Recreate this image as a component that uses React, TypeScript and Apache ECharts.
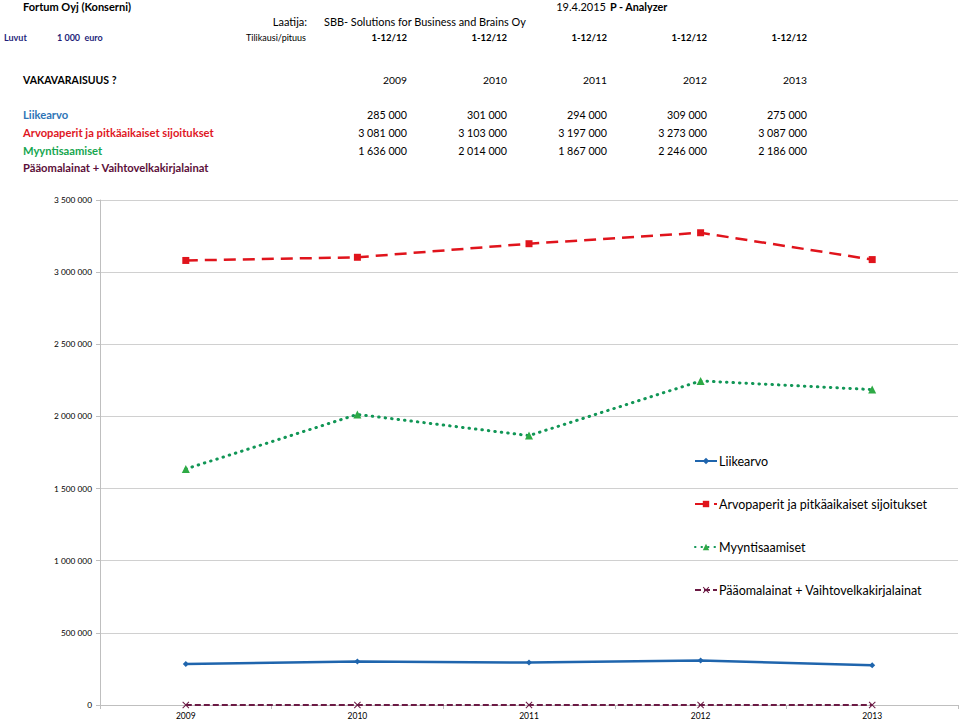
import React, { useEffect, useRef } from "react";
import * as echarts from "echarts";

const years = ["2009", "2010", "2011", "2012", "2013"];
const liikearvo = [285000, 301000, 294000, 309000, 275000];
const arvopaperit = [3081000, 3103000, 3197000, 3273000, 3087000];
const myyntisaamiset = [1636000, 2014000, 1867000, 2246000, 2186000];
const paaomalainat = [0, 0, 0, 0, 0];
const periods = ["1-12/12", "1-12/12", "1-12/12", "1-12/12", "1-12/12"];
const seriesNames = [
  "Liikearvo",
  "Arvopaperit ja pitkäaikaiset sijoitukset",
  "Myyntisaamiset",
  "Pääomalainat + Vaihtovelkakirjalainat",
];

const FONT = "Lato, 'Liberation Sans', sans-serif";
const fmt = (v: number) =>
  String(v).replace(/\B(?=(\d{3})+(?!\d))/g, " ");

export default function App() {
  const ref = useRef<HTMLDivElement>(null);
  useEffect(() => {
    if (!ref.current) return;
    const chart = echarts.init(ref.current, null, { renderer: "svg" });
    const colX = [407, 507, 607, 707, 807];
    const texts: any[] = [];
    const t = (x: number, y: number, text: string, opts: any = {}) =>
      texts.push({
        type: "text",
        x,
        y,
        style: {
          text,
          fontFamily: FONT,
          fontSize: 11,
          fill: "#000",
          textVerticalAlign: "middle",
          verticalAlign: "middle",
          ...opts,
        },
      });
    t(23, 6, "Fortum Oyj (Konserni)", { fontWeight: "bold", fontSize: 11 });
    t(606, 6, "19.4.2015", { align: "right", textAlign: "right" });
    t(610, 6, "P - Analyzer", { fontWeight: "bold", fontSize: 10.8 });
    t(307, 21, "Laatija:", { align: "right", textAlign: "right" });
    t(324, 21, "SBB- Solutions for Business and Brains Oy", { fontSize: 10.9 });
    t(4, 37, "Luvut", { fontWeight: "bold", fill: "#1F1F7A", fontSize: 9 });
    t(57, 37, "1 000  euro", { fontWeight: "bold", fill: "#1F1F7A", fontSize: 9 });
    t(306, 37, "Tilikausi/pituus", { align: "right", textAlign: "right", fontSize: 9 });
    periods.forEach((p, i) =>
      t(colX[i], 37, p, { align: "right", textAlign: "right", fontWeight: "bold", fontSize: 9.5 })
    );
    t(23, 80, "VAKAVARAISUUS ?", { fontWeight: "bold", fontSize: 10.5 });
    years.forEach((y, i) => t(colX[i], 80, y, { align: "right", textAlign: "right", fontSize: 10.3 }));
    const rows = [
      { name: seriesNames[0], color: "#2E75B6", data: liikearvo, y: 114 },
      { name: seriesNames[1], color: "#E0171F", data: arvopaperit, y: 132 },
      { name: seriesNames[2], color: "#16A650", data: myyntisaamiset, y: 150 },
      { name: seriesNames[3], color: "#5C0F3A", data: null, y: 167 },
    ];
    rows.forEach((r) => {
      t(23, r.y, r.name, { fontWeight: "bold", fill: r.color, fontSize: 11.2 });
      if (r.data)
        r.data.forEach((v, i) =>
          t(colX[i], r.y, fmt(v), { align: "right", textAlign: "right", fontSize: 10.7 })
        );
    });

    const xPath = "path://M1,0L5,4L9,0L10,1L6,5L10,9L9,10L5,6L1,10L0,9L4,5L0,1Z";
    const legendCenters = [461, 504, 547, 590];

    chart.setOption({
      animation: false,
      backgroundColor: "#fff",
      textStyle: { fontFamily: FONT },
      grid: { left: 100, right: 2, top: 200, bottom: 16, containLabel: false },
      legend: seriesNames.map((n, i) => ({
        left: 694,
        top: legendCenters[i] - 7,
        padding: 0,
        itemWidth: 22,
        itemHeight: 8,
        itemGap: 0,
        textStyle: { fontSize: 12.5, lineHeight: 14, color: "#000", fontFamily: FONT, padding: [0, 0, 0, -3] },
        data: [n],
      })),
      xAxis: {
        type: "category",
        data: years,
        boundaryGap: true,
        axisLine: { lineStyle: { color: "#BFBFBF", width: 1 } },
        axisTick: { show: true, length: 4, lineStyle: { color: "#BFBFBF" } },
        axisLabel: { fontSize: 8.5, color: "#000", margin: 6 },
      },
      yAxis: {
        type: "value",
        min: 0,
        max: 3500000,
        interval: 500000,
        axisLine: { show: true, lineStyle: { color: "#BFBFBF", width: 1 } },
        axisTick: { show: true, length: 4, lineStyle: { color: "#BFBFBF" } },
        axisLabel: { fontSize: 8.3, color: "#000", margin: 8, formatter: (v: number) => fmt(v) },
        splitLine: { show: true, lineStyle: { color: "#D0D0D0", width: 1 } },
      },
      series: [
        {
          name: seriesNames[0],
          type: "line",
          data: liikearvo,
          symbol: "diamond",
          symbolSize: 6,
          itemStyle: { color: "#1F65AD" },
          lineStyle: { color: "#1F65AD", width: 2.5 },
        },
        {
          name: seriesNames[1],
          type: "line",
          data: arvopaperit,
          symbol: "rect",
          symbolSize: 7,
          itemStyle: { color: "#E0141C" },
          lineStyle: { color: "#E0141C", width: 2.5, type: [12, 7] },
        },
        {
          name: seriesNames[2],
          type: "line",
          data: myyntisaamiset,
          symbol: "triangle",
          symbolSize: 8,
          itemStyle: { color: "#2EAA45" },
          lineStyle: { color: "#119656", width: 3, type: [0.5, 6], cap: "round" },
        },
        {
          name: seriesNames[3],
          type: "line",
          data: paaomalainat,
          symbol: xPath,
          symbolSize: 7,
          itemStyle: { color: "#6B1A44" },
          lineStyle: { color: "#6B1A44", width: 2, type: [6, 3] },
        },
      ],
      graphic: texts,
    });
    return () => chart.dispose();
  }, []);
  return (
    <div
      ref={ref}
      style={{ position: "fixed", left: 0, top: 0, width: 960, height: 721 }}
    />
  );
}
